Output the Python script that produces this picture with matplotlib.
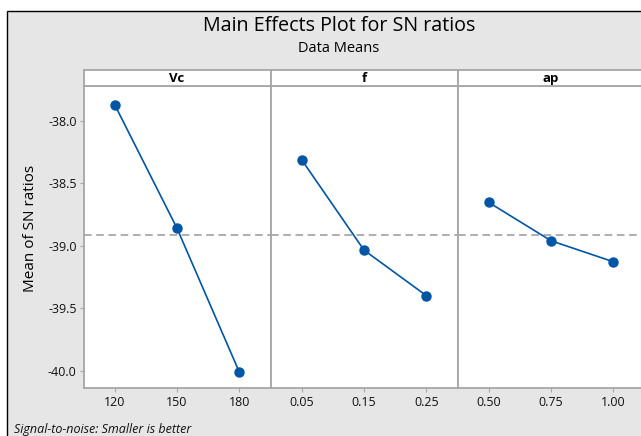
import matplotlib
matplotlib.use("Agg")
import matplotlib.pyplot as plt
from matplotlib.patches import Rectangle

# ─── Data ────────────────────────────────────────────────────
factors   = ["Vc", "f", "ap"]
vc_levels = ["120", "150", "180"]
f_levels  = ["0.05", "0.15", "0.25"]
ap_levels = ["0.50", "0.75", "1.00"]
vc_sn     = [-37.870, -38.859, -40.010]
f_sn      = [-38.311, -39.034, -39.398]
ap_sn     = [-38.652, -38.959, -39.127]
y_ticks   = [-38.0, -38.5, -39.0, -39.5, -40.0]

levels = [vc_levels, f_levels, ap_levels]
means  = [vc_sn, f_sn, ap_sn]
grand_mean = sum(vc_sn + f_sn + ap_sn) / 9.0

W, H = 641, 436
BG    = "#e6e6e6"
FRAME = "#a6a6a6"
BLUE  = "#0055a5"
FONT  = "Open Sans"

plt.rcParams["font.family"] = [FONT, "DejaVu Sans"]

fig = plt.figure(figsize=(W / 100, H / 100), dpi=100, facecolor="white")

# outer gray panel with black border (top/left visible)
fig.patches.append(Rectangle((7 / W, -0.01), 1.02, 1 - 11 / H + 0.01,
                             transform=fig.transFigure, facecolor=BG,
                             edgecolor="black", linewidth=1.0, zorder=-10))

fig.text(339 / W, 1 - 26 / H, "Main Effects Plot for SN ratios",
         ha="center", va="center", fontsize=14.2, color="black")
fig.text(339 / W, 1 - 48.5 / H, "Data Means",
         ha="center", va="center", fontsize=10.5, color="black")
fig.text(14 / W, 1 - 429 / H, "Signal-to-noise: Smaller is better",
         ha="left", va="center", fontsize=9, style="italic", color="#111111")
fig.text(30 / W, 1 - 228 / H, "Mean of SN ratios", rotation=90,
         ha="center", va="center", fontsize=11, color="black")

left0   = 83.5
panel_w = 187.0
y_bot, y_top, strip_top = 388, 86, 70
ylim = (-40.137, -37.721)

for i, (name, lv, mv) in enumerate(zip(factors, levels, means)):
    x0 = left0 + i * panel_w
    ax = fig.add_axes([x0 / W, 1 - y_bot / H, panel_w / W, (y_bot - y_top) / H])
    ax.set_facecolor("white")
    xs = list(range(len(lv)))
    ax.axhline(grand_mean, color="#999999", linestyle=(0, (5, 3)), linewidth=1.1, zorder=1)
    ax.plot(xs, mv, color=BLUE, linewidth=1.2, marker="o", markersize=6.5, zorder=3)
    ax.set_xlim(-0.5, 2.5)
    ax.set_ylim(*ylim)
    ax.set_xticks(xs)
    ax.set_xticklabels(lv)
    ax.tick_params(axis="x", direction="out", length=3, color=FRAME,
                   labelsize=9, labelcolor="#111111", pad=2.5)
    if i == 0:
        ax.set_yticks(y_ticks)
        ax.set_yticklabels([f"{v:.1f}" for v in y_ticks])
        ax.tick_params(axis="y", direction="out", length=3, color=FRAME,
                       labelsize=9, labelcolor="#111111", pad=2)
    else:
        ax.set_yticks([])
    for sp in ax.spines.values():
        sp.set_color(FRAME)
        sp.set_linewidth(1.3)

    # strip header
    sx = fig.add_axes([x0 / W, 1 - y_top / H, panel_w / W, (y_top - strip_top) / H])
    sx.set_facecolor("white")
    sx.set_xticks([]); sx.set_yticks([])
    for sp in sx.spines.values():
        sp.set_color(FRAME)
        sp.set_linewidth(1.3)
    sx.text(0.5, 0.45, name, transform=sx.transAxes, ha="center", va="center",
            fontsize=9.5, fontweight="bold", color="black")

fig.savefig("out.png", dpi=100, facecolor=fig.get_facecolor())
